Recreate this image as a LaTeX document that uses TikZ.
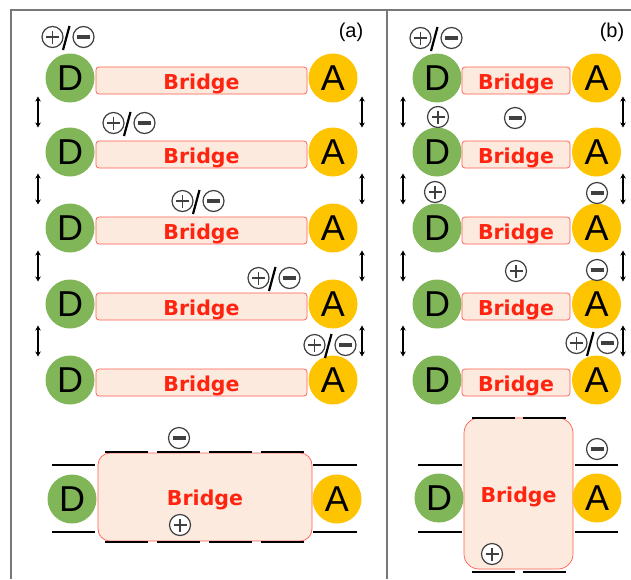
\documentclass[tikz,border=0pt]{standalone}
\usepackage{fontspec}
\setmainfont{Liberation Sans}
\newfontfamily\bridgefont{DejaVu Sans}
\usetikzlibrary{arrows.meta}

\definecolor{donorgreen}{RGB}{128,182,88}
\definecolor{acceptoryellow}{RGB}{255,196,0}
\definecolor{bridgefill}{RGB}{252,234,222}
\definecolor{bridgeline}{RGB}{255,92,80}
\definecolor{bridgetext}{RGB}{255,36,16}
\definecolor{framegray}{RGB}{120,120,120}

\tikzset{
  donor/.style={circle, fill=donorgreen, minimum size=49pt, inner sep=0pt,
    font=\fontsize{36}{36}\selectfont},
  acceptor/.style={circle, fill=acceptoryellow, minimum size=49pt, inner sep=0pt,
    font=\fontsize{36}{36}\selectfont},
  bridge/.style={rectangle, rounded corners=3pt, draw=bridgeline, line width=0.7pt,
    fill=bridgefill, text=bridgetext, inner sep=0pt, minimum height=27pt,
    text height=17pt, text depth=0pt,
    font=\bridgefont\bfseries\fontsize{20.5}{21}\selectfont},
  poscharge/.style={circle, draw=black!75, line width=1.2pt, minimum size=21pt,
    inner sep=0pt, fill=white,
    path picture={
      \draw[line width=1.5pt]
        ([xshift=-6.5pt]path picture bounding box.center) -- ([xshift=6.5pt]path picture bounding box.center)
        ([yshift=-6.5pt]path picture bounding box.center) -- ([yshift=6.5pt]path picture bounding box.center);}},
  negcharge/.style={circle, draw=black!75, line width=1.2pt, minimum size=21pt,
    inner sep=0pt, fill=white,
    path picture={
      \draw[line width=3.2pt]
        ([xshift=-6.5pt]path picture bounding box.center) -- ([xshift=6.5pt]path picture bounding box.center);}},
  slash/.style={line width=2.2pt},
  updown/.style={{Stealth[length=5pt,width=5.5pt]}-{Stealth[length=5pt,width=5.5pt]}, line width=1.4pt},
  bar/.style={line width=2.8pt},
  frame/.style={framegray, line width=1.6pt},
  panel/.style={font=\fontsize{20}{20}\selectfont}
}

% charge pair: name, x, y
\newcommand\chargepair[3]{%
  \node[poscharge] (#1p) at (#2-15.5,#3) {};
  \node[negcharge] (#1m) at (#2+15.5,#3) {};
  \draw[slash] (#2+1.5,#3-11) -- (#2-5,#3+13);
}

\begin{document}
\begin{tikzpicture}[x=1pt,y=-1pt]
  \useasboundingbox (0,0) rectangle (631,579);

  % frame
  \draw[frame] (11,579) -- (11,10) -- (631,10);
  \draw[frame] (387,10) -- (387,579);
  \node[panel] (la) at (351,32) {(a)};
  \node[panel] (lb) at (612,32) {(b)};

  % rows
  \foreach \r/\y in {1/78,2/152,3/228,4/304,5/380}{
    \node[bridge, minimum width=211pt] (Ba\r) at (201.5,\y+2.5) {Bridge};
    \node[donor] (Da\r) at (70,\y) {D};
    \node[acceptor] (Aa\r) at (333,\y) {A};
    \node[bridge, minimum width=108pt] (Bb\r) at (516,\y+2.5) {Bridge};
    \node[donor] (Db\r) at (437,\y) {D};
    \node[acceptor] (Ab\r) at (596.5,\y) {A};
  }

  % up/down arrows
  \foreach \y in {112,189,266,341}{
    \draw[updown] (38,\y-15.5) -- (38,\y+15.5);
    \draw[updown] (362,\y-15.5) -- (362,\y+15.5);
    \draw[updown] (403,\y-15.5) -- (403,\y+15.5);
    \draw[updown] (623,\y-15.5) -- (623,\y+15.5);
  }

  % charges (a)
  \chargepair{qa1}{68}{37}
  \chargepair{qa2}{129}{123}
  \chargepair{qa3}{198}{201}
  \chargepair{qa4}{274}{278}
  \chargepair{qa5}{330}{345}

  % charges (b)
  \chargepair{qb1}{436}{38}
  \node[poscharge] (qb2p) at (438,117) {};
  \node[negcharge] (qb2m) at (515,118) {};
  \node[poscharge] (qb3p) at (435,192) {};
  \node[negcharge] (qb3m) at (597,193) {};
  \node[poscharge] (qb4p) at (516,271) {};
  \node[negcharge] (qb4m) at (597,270) {};
  \chargepair{qb5}{592}{343}

  % bottom (a)
  \node[bridge, rounded corners=12pt, minimum width=214pt, minimum height=88pt] (BBa) at (205,497) {Bridge};
  \node[donor] (DDa) at (72,499) {D};
  \node[acceptor] (AAa) at (337,499) {A};
  \draw[bar] (52,465) -- (95,465) (52,532) -- (95,532);
  \draw[bar] (313,465) -- (357,465) (313,532) -- (357,532);
  \draw[bar, dash pattern=on 43pt off 9pt] (105,452) -- (304,452);
  \draw[bar, dash pattern=on 43pt off 9pt] (105,542) -- (304,542);
  \node[negcharge] (qam) at (179,438) {};
  \node[poscharge] (qap) at (180,525) {};

  % bottom (b)
  \node[bridge, rounded corners=15pt, minimum width=109pt, minimum height=151pt] (BBb) at (518.5,493.5) {Bridge};
  \node[donor] (DDb) at (439,498) {D};
  \node[acceptor] (AAb) at (597,498) {A};
  \draw[bar] (418,465) -- (462,465) (418,532) -- (462,532);
  \draw[bar] (575,465) -- (618,465) (575,532) -- (618,532);
  \draw[bar, dash pattern=on 43pt off 8pt] (472,418) -- (567,418);
  \draw[bar, dash pattern=on 43pt off 8pt] (472,572) -- (567,572);
  \node[negcharge] (qbm) at (597,449) {};
  \node[poscharge] (qbp) at (492,554) {};
\end{tikzpicture}
\end{document}
